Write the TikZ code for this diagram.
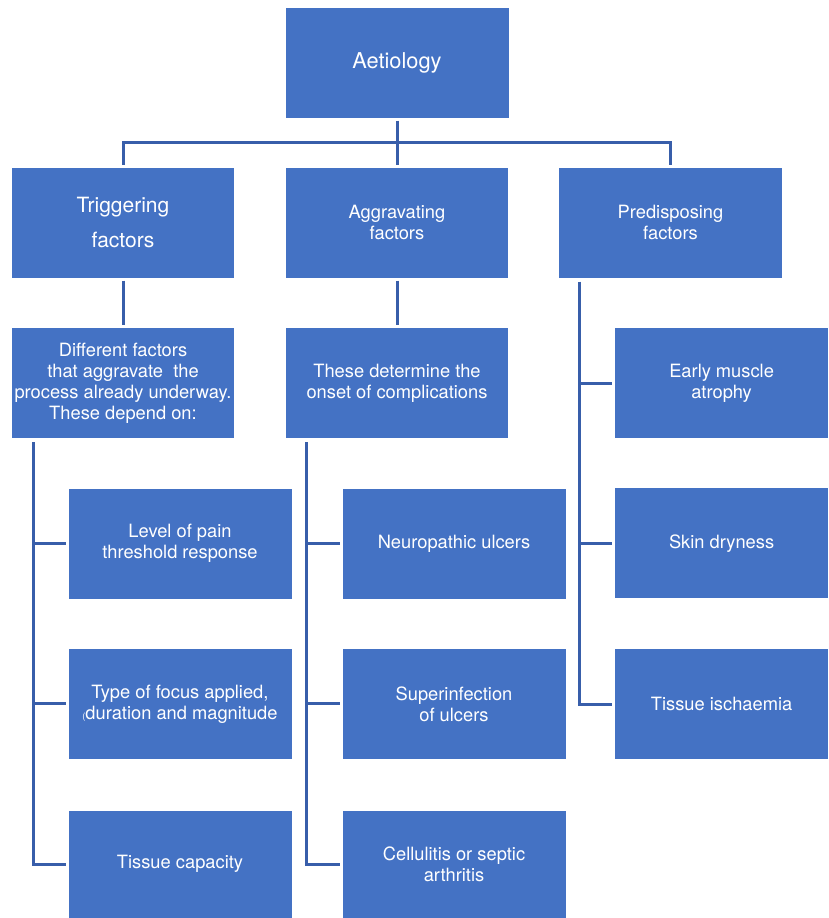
\documentclass[tikz,border=0pt]{standalone}
\usepackage{fontspec}
\setmainfont{TeX Gyre Heros}
\usepackage{xcolor}
\usetikzlibrary{positioning, calc}
\definecolor{boxblue}{RGB}{68,114,196}
\definecolor{linkblue}{RGB}{56,94,170}

\begin{document}
\begin{tikzpicture}[x=1pt, y=1pt,
  box/.style={fill=boxblue, text=white, align=center, inner sep=0pt, outer sep=0pt,
    minimum width=223pt, minimum height=110pt, font=\fontsize{18.3}{21}\selectfont},
  sidebox/.style={box, minimum width=213pt},
  conn/.style={draw=linkblue, line width=3pt}]
  \useasboundingbox (0,0) rectangle (828,-918);
  % Top level and the three kinds of factors
  \node[box, font=\fontsize{21.8}{25}\selectfont] (aet) at (397,-62.5) {Aetiology};
  \node[box, minimum width=222pt, font=\fontsize{21}{35}\selectfont] (trig) at (123,-222.5) {Triggering\\factors};
  \node[box, minimum width=222pt] (agg) at (397,-222.5) {Aggravating\\factors};
  \node[box] (pred) at (670.5,-222.5) {Predisposing\\factors};
  % Descriptions under the first two
  \node[box, minimum width=222pt] (diff) at (123,-383) {Different factors\\that aggravate\ \ the\\process already underway.\\These depend on:};
  \node[box, minimum width=222pt] (onset) at (397,-383) {These determine the\\onset of complications};
  % Left column
  \node[box] (pain) at (180,-543.5) {Level of pain\\threshold response};
  \node[box] (focus) at (180,-703.8) {Type of focus applied,\\{\fontsize{9}{9}\selectfont(}duration and magnitude};
  \node[box, minimum height=107.3pt] (capacity) at (180,-864.3) {Tissue capacity};
  % Middle column
  \node[box] (neuro) at (454,-543.5) {Neuropathic ulcers};
  \node[box] (superinf) at (454,-703.8) {Superinfection\\of ulcers};
  \node[box, minimum height=107.3pt] (cellul) at (454,-864.3) {Cellulitis or septic\\arthritis};
  % Right column
  \node[sidebox] (atrophy) at (721.6,-383) {Early muscle\\atrophy};
  \node[sidebox] (dryness) at (721.6,-543.3) {Skin dryness};
  \node[sidebox] (ischaemia) at (721.6,-704) {Tissue ischaemia};
  % Tree from the top box
  \coordinate (bus) at ($(agg.north)+(0,25.5)$);
  \draw[conn] ([yshift=-3pt]aet.south) -- ([yshift=3pt]agg.north);
  \draw[conn] ([yshift=3pt]trig.north) |- (bus) -| ([yshift=3pt]pred.north);
  \draw[conn] ([yshift=-3pt]trig.south) -- ([yshift=3pt]diff.north);
  \draw[conn] ([yshift=-3pt]agg.south) -- ([yshift=3pt]onset.north);
  % Spines down each column
  \coordinate (lspine) at ($(diff.south west)+(21,-4)$);
  \coordinate (mspine) at ($(onset.south west)+(20,-4)$);
  \coordinate (rspine) at ($(pred.south west)+(20.5,-4)$);
  \draw[conn] (lspine) |- ([xshift=-3pt]capacity.west);
  \draw[conn] (lspine |- pain.west) -- ([xshift=-3pt]pain.west);
  \draw[conn] (lspine |- focus.west) -- ([xshift=-3pt]focus.west);
  \draw[conn] (mspine) |- ([xshift=-3pt]cellul.west);
  \draw[conn] (mspine |- neuro.west) -- ([xshift=-3pt]neuro.west);
  \draw[conn] (mspine |- superinf.west) -- ([xshift=-3pt]superinf.west);
  \draw[conn] (rspine) |- ([xshift=-3pt]ischaemia.west);
  \draw[conn] (rspine |- atrophy.west) -- ([xshift=-3pt]atrophy.west);
  \draw[conn] (rspine |- dryness.west) -- ([xshift=-3pt]dryness.west);
\end{tikzpicture}
\end{document}
